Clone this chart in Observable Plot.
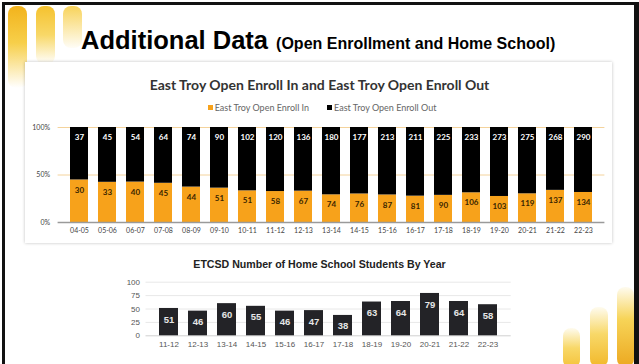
<!DOCTYPE html>
<html>
<head>
<meta charset="utf-8">
<script src="https://cdn.jsdelivr.net/npm/d3@7"></script>
<script src="https://cdn.jsdelivr.net/npm/@observablehq/plot@0.6"></script>
<style>
  html, body { margin:0; padding:0; background:#fff; }
  body { width:639px; height:364px; position:relative; overflow:hidden; font-family:"Liberation Sans", Arial, sans-serif; }
  .abs { position:absolute; }
  .deco { position:absolute; border-radius:8px; }
  #title { left:81px; top:27px; font-size:25.5px; font-weight:bold; color:#000; white-space:nowrap; line-height:26px; }
  #title span { font-size:16px; font-weight:bold; margin-left:1px; }
  #card { left:25px; top:62px; width:587px; height:181px; background:#fff; box-shadow:0 0 3px rgba(0,0,0,0.25); }
  #t1 { left:0; width:639px; top:76px; text-align:center; font-family:Lato, "Open Sans", sans-serif; font-weight:bold; font-size:14px; color:#333; }
  #legend { left:0; width:644px; top:102px; text-align:center; font-family:Lato, sans-serif; font-size:9px; color:#666; }
  #legend i { display:inline-block; width:5px; height:5px; margin-right:2px; vertical-align:middle; position:relative; top:-1px; }
  #legend b { font-weight:normal; margin-right:18px; }
  #t2 { left:0; width:639px; top:258px; text-align:center; font-weight:bold; font-size:10.6px; color:#222; }
  #p1 { left:0; top:115px; }
  #p2 { left:0; top:272px; }
</style>
</head>
<body>
<div class="abs" style="left:3px;top:2px;width:633px;height:3px;background:#111"></div>
<div class="abs" style="left:2px;top:2px;width:3px;height:362px;background:#111"></div>
<div class="abs" style="left:634px;top:2px;width:5px;height:362px;background:#111"></div>

<div class="deco" style="left:8px;top:6px;width:19px;height:82px;background:linear-gradient(#f2b31c,#f7cf4a 45%,rgba(250,225,140,0.0))"></div>
<div class="deco" style="left:36px;top:6px;width:19px;height:58px;background:linear-gradient(#f5c22e,#f8d868 50%,rgba(250,232,170,0.0))"></div>
<div class="deco" style="left:63px;top:6px;width:19px;height:42px;background:linear-gradient(#f8d35a,rgba(250,232,170,0.1))"></div>

<div class="deco" style="left:563px;top:328px;width:17px;height:40px;background:linear-gradient(rgba(250,230,150,0.15),#f8d868 50%,#f4c23a)"></div>
<div class="deco" style="left:590px;top:307px;width:18px;height:60px;background:linear-gradient(rgba(250,230,150,0.15),#f8d868 45%,#f2b82a)"></div>
<div class="deco" style="left:617px;top:287px;width:17px;height:80px;background:linear-gradient(rgba(250,230,150,0.15),#f7d458 40%,#eca820)"></div>

<div id="title" class="abs">Additional Data <span>(Open Enrollment and Home School)</span></div>
<div id="card" class="abs"></div>
<div id="t1" class="abs">East Troy Open Enroll In and East Troy Open Enroll Out</div>
<div id="legend" class="abs"><i style="background:#f7a21b"></i><b>East Troy Open Enroll In</b><i style="background:#000"></i><b style="margin-right:0">East Troy Open Enroll Out</b></div>
<div id="p1" class="abs"></div>
<div id="t2" class="abs">ETCSD Number of Home School Students By Year</div>
<div id="p2" class="abs"></div>

<script>
const years = ["04-05","05-06","06-07","07-08","08-09","09-10","10-11","11-12","12-13","13-14","14-15","15-16","16-17","17-18","18-19","19-20","20-21","21-22","22-23"];
const enrollIn = [30,33,40,45,44,51,51,58,67,74,76,87,81,90,106,103,119,137,134];
const enrollOut = [37,45,54,64,74,90,102,120,136,180,177,213,211,225,233,273,275,268,290];
const seriesNames = ["East Troy Open Enroll In","East Troy Open Enroll Out"];
const pctTicks = [0, 0.5, 1];

const hsYears = ["11-12","12-13","13-14","14-15","15-16","16-17","17-18","18-19","19-20","20-21","21-22","22-23"];
const homeSchool = [51,46,60,55,46,47,38,63,64,79,64,58];
const hsTicks = [0,25,50,75,100];

const ORANGE = "#f7a21b", BLACK = "#000000";

const rows = [];
years.forEach((y, i) => {
  rows.push({year: y, series: seriesNames[0], value: enrollIn[i]});
  rows.push({year: y, series: seriesNames[1], value: enrollOut[i]});
});

const p1 = Plot.plot({
  width: 639, height: 130,
  marginLeft: 57.6, marginRight: 34.6, marginTop: 12, marginBottom: 23,
  style: {fontFamily: "Lato, 'Open Sans', sans-serif", fontSize: "7px", color: "#444", background: "transparent"},
  x: {domain: years, padding: 0.37, label: null, tickSize: 0, tickPadding: 6},
  y: {domain: [0, 1], ticks: pctTicks, tickFormat: d => Math.round(d * 100) + "%", label: null, tickSize: 0, tickPadding: 8},
  color: {domain: seriesNames, range: [ORANGE, BLACK]},
  marks: [
    Plot.ruleY([0.5, 1], {stroke: "#f4d39c", strokeWidth: 1}),
    Plot.barY(rows, {x: "year", y: "value", z: "series", fill: "series", offset: "normalize"}),
    Plot.ruleY([0], {stroke: "#9a9a9a", strokeWidth: 1.5}),
    Plot.text(rows, Plot.stackY2({x: "year", y: "value", z: "series", offset: "normalize",
      text: "value", dy: 10, fontWeight: "bold", fontSize: 8,
      fill: d => d.series === seriesNames[0] ? "#3a2500" : "#ffffff"}))
  ]
});
document.getElementById("p1").appendChild(p1);

const hsRows = hsYears.map((y, i) => ({year: y, value: homeSchool[i]}));

const p2 = Plot.plot({
  width: 639, height: 88,
  marginLeft: 145.5, marginRight: 128.3, marginTop: 9.7, marginBottom: 24.7,
  style: {fontFamily: "'Liberation Sans', Arial, sans-serif", fontSize: "8px", color: "#555", background: "transparent"},
  x: {domain: hsYears, padding: 0.35, label: null, tickSize: 0, tickPadding: 6},
  y: {domain: [0, 100], ticks: hsTicks, label: null, tickSize: 0, tickPadding: 6},
  marks: [
    Plot.ruleY(hsTicks.filter(d => d > 0), {stroke: "#e8e8e8"}),
    Plot.ruleY([0], {stroke: "#d0d0d0"}),
    Plot.barY(hsRows, {x: "year", y: "value", fill: "#232327"}),
    Plot.text(hsRows, {x: "year", y: "value", text: "value", dy: 11, fill: "#e6e6e6", fontWeight: "bold", fontSize: 9.5})
  ]
});
document.getElementById("p2").appendChild(p2);
</script>
</body>
</html>
